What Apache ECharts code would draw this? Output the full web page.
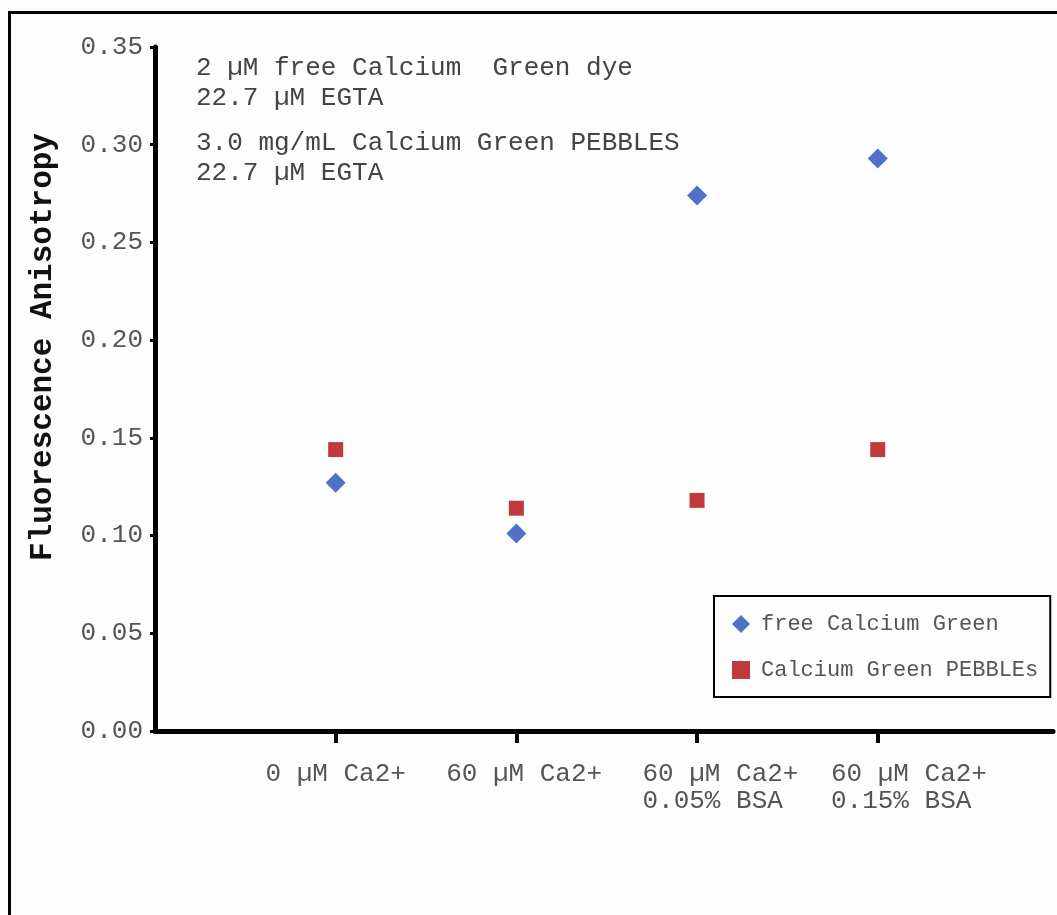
<!DOCTYPE html>
<html>
<head>
<meta charset="utf-8">
<script src="https://cdn.jsdelivr.net/npm/echarts@6/dist/echarts.min.js"></script>
<style>
html,body{margin:0;padding:0;background:#fdfdfd;}
#c{width:1057px;height:915px;position:relative;}
#frame{position:absolute;left:8px;top:11px;width:1100px;height:1000px;border-left:3px solid #000;border-top:3px solid #000;pointer-events:none;}
</style>
</head>
<body>
<div id="c"></div>
<div id="frame"></div>
<script>
var categories = ['0 µM Ca2+', '60 µM Ca2+', '60 µM Ca2+\n0.05% BSA', '60 µM Ca2+\n0.15% BSA'];
var categoryPositions = [1, 2, 3, 4];
var freeDye = [0.127, 0.101, 0.274, 0.293];
var pebbles = [0.144, 0.114, 0.118, 0.144];
var yTicks = [0, 0.05, 0.10, 0.15, 0.20, 0.25, 0.30, 0.35];
var annotations = ['2 µM free Calcium  Green dye', '22.7 µM EGTA', '3.0 mg/mL Calcium Green PEBBLES', '22.7 µM EGTA'];
var seriesNames = ['free Calcium Green', 'Calcium Green PEBBLEs'];
var yTitle = 'Fluorescence Anisotropy';

// style only: rightward nudge (in half character cells) of each category label
var labelIndent = [0, 1, 3, 4];

var mono = '"Liberation Mono", "Courier New", monospace';
var chart = echarts.init(document.getElementById('c'), null, {renderer: 'canvas'});

function pairs(vals) {
  return vals.map(function (v, i) { return [categoryPositions[i], v]; });
}
function formatCat(v) {
  var i = Math.round(v) - 1;
  var t = categories[i];
  if (t == null) return '';
  var lines = t.split('\n');
  var w = Math.max.apply(null, lines.map(function (l) { return l.length; }));
  var pad = new Array(labelIndent[i] + 1).join(' ');
  return lines.map(function (l) {
    while (l.length < w) l += ' ';
    return pad + l;
  }).join('\n');
}
var oddPos = categoryPositions.filter(function (p, i) { return i % 2 === 0; });
var evenPos = categoryPositions.filter(function (p, i) { return i % 2 === 1; });

function labelAxis(vals, main) {
  return {
    type: 'value', min: 0, max: 4.97, position: 'bottom', offset: 0,
    axisLine: {show: main, onZero: false, lineStyle: {color: '#000', width: 5, cap: 'round'}},
    axisTick: {show: main, customValues: categoryPositions, length: 12, lineStyle: {color: '#000', width: 4}},
    axisLabel: {
      customValues: vals, margin: 30, hideOverlap: false,
      formatter: formatCat,
      fontFamily: mono, fontSize: 26, color: '#555', lineHeight: 27, align: 'center'
    },
    splitLine: {show: false}
  };
}

var annY = [68, 98, 143, 173];
var option = {
  backgroundColor: '#fdfdfd',
  animation: false,
  grid: {left: 155, top: 47, right: 4, bottom: 184, containLabel: false},
  xAxis: [labelAxis(oddPos, true), labelAxis(evenPos, false)],
  yAxis: {
    type: 'value', min: 0, max: 0.35, interval: 0.05,
    axisLine: {show: true, lineStyle: {color: '#000', width: 5, cap: 'round'}},
    axisTick: {show: true, length: 5, lineStyle: {color: '#000', width: 3}},
    axisLabel: {
      margin: 12, fontFamily: mono, fontSize: 26, color: '#555',
      formatter: function (v) { return v.toFixed(2); }
    },
    splitLine: {show: false}
  },
  legend: {
    orient: 'vertical', left: 714, top: 596,
    data: seriesNames,
    borderColor: '#000', borderWidth: 2, borderRadius: 0,
    padding: [17, 12, 16, 18],
    itemWidth: 18, itemHeight: 18, itemGap: 24,
    itemStyle: {opacity: 1},
    textStyle: {fontFamily: mono, fontSize: 22, color: '#555', lineHeight: 22, padding: [0, 0, 0, 6]}
  },
  graphic: [
    {type: 'text', x: 43, y: 347, rotation: Math.PI / 2,
     style: {text: yTitle, font: 'bold 31px ' + mono, fill: '#111', align: 'center', verticalAlign: 'middle'}}
  ].concat(annotations.map(function (t, i) {
    return {type: 'text', x: 196, y: annY[i], style: {text: t, font: '26px ' + mono, fill: '#444', verticalAlign: 'middle'}};
  })),
  series: [
    {name: seriesNames[0], type: 'scatter', symbol: 'diamond', symbolSize: 20, xAxisIndex: 0,
     itemStyle: {color: '#4F72C6', opacity: 1}, data: pairs(freeDye)},
    {name: seriesNames[1], type: 'scatter', symbol: 'rect', symbolSize: 15, xAxisIndex: 0,
     itemStyle: {color: '#C0393B', opacity: 1}, data: pairs(pebbles)}
  ]
};
chart.setOption(option);
</script>
</body>
</html>
